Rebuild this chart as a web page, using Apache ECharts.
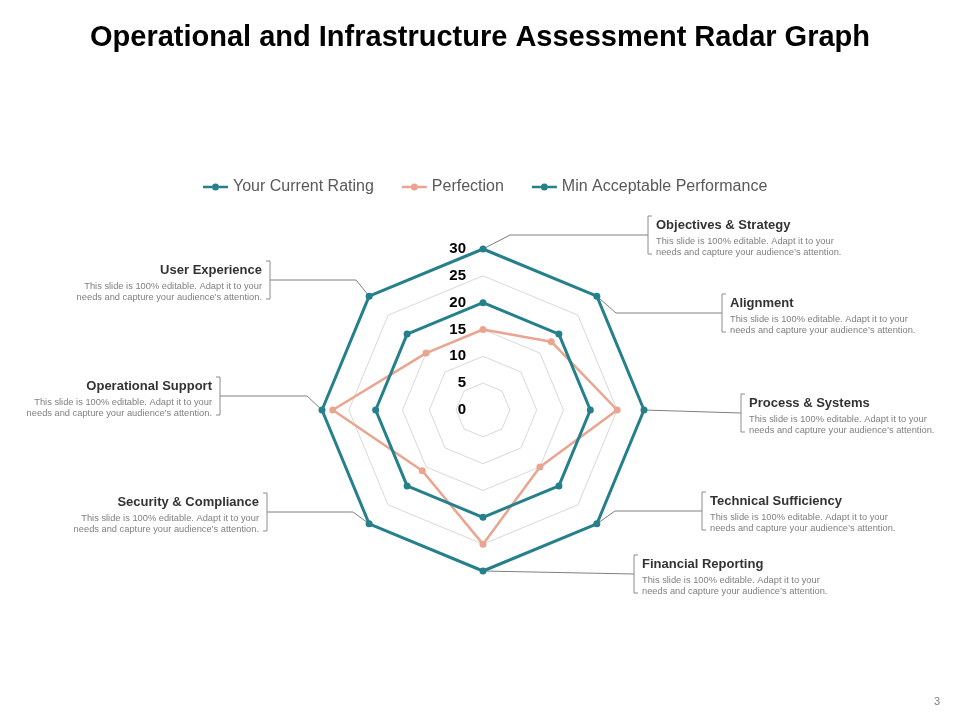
<!DOCTYPE html>
<html><head><meta charset="utf-8">
<script src="https://cdn.jsdelivr.net/npm/echarts@6/dist/echarts.min.js"></script>
<style>html,body{margin:0;padding:0;background:#fff}#c{width:960px;height:720px}</style>
</head><body><div id="c"></div>
<script>
// Categories in the order ECharts draws them (top, then counter-clockwise)
const categories = ['Objectives & Strategy','User Experience','Operational Support','Security & Compliance','Financial Reporting','Technical Sufficiency','Process & Systems','Alignment'];
const seriesNames = ['Your Current Rating','Perfection','Min Acceptable Performance'];
const currentRating = [30,30,30,30,30,30,30,30];
const perfection = [15,15,28,16,25,15,25,18];
const minAcceptable = [20,20,20,20,20,20,20,20];
const axisMin = 0, axisMax = 30, axisStep = 5;
const descLines = ['This slide is 100% editable. Adapt it to your','needs and capture your audience’s attention.'];
const titleText = 'Operational and Infrastructure Assessment Radar Graph';
const pageNumber = '3';

const TEAL = '#25808b', SALMON = '#eaa590';
const FONT = '"Liberation Sans", Arial, sans-serif';
const CX = 483, CY = 410, R = 161;

// callout layout (same order as categories)
const callouts = [
  {side:'right', bx:648, top:216, elbowX:510},
  {side:'left',  bx:270, top:261, elbowX:356},
  {side:'left',  bx:220, top:377, elbowX:307},
  {side:'left',  bx:267, top:493, elbowX:353},
  {side:'right', bx:634, top:555, elbowX:null},
  {side:'right', bx:702, top:492, elbowX:615},
  {side:'right', bx:741, top:394, elbowX:null},
  {side:'right', bx:722, top:294, elbowX:616}
];

const graphics = [];
categories.forEach((name, i) => {
  const c = callouts[i];
  const ang = Math.PI/2 + i*2*Math.PI/categories.length;
  const f = (currentRating[i]-axisMin)/(axisMax-axisMin);
  const vx = CX + R*f*Math.cos(ang), vy = CY - R*f*Math.sin(ang);
  const ly = c.top + 19;
  const pts = c.elbowX == null ? [[vx,vy],[c.bx,ly]] : [[vx,vy],[c.elbowX,ly],[c.bx,ly]];
  graphics.push({type:'polyline', z:1, shape:{points:pts}, style:{stroke:'#808080', lineWidth:1, fill:null}});
  const d = c.side === 'right' ? 4 : -4;
  graphics.push({type:'polyline', z:1, shape:{points:[[c.bx+d,c.top],[c.bx,c.top],[c.bx,c.top+38],[c.bx+d,c.top+38]]}, style:{stroke:'#8c8c8c', lineWidth:1, fill:null}});
  const tx = c.side === 'right' ? c.bx + 8 : c.bx - 8;
  const al = c.side === 'right' ? 'left' : 'right';
  graphics.push({type:'text', z:1, x:tx, y:c.top+9, style:{text:name, fill:'#333333', font:'bold 13px ' + FONT, align:al, textAlign:al, verticalAlign:'middle', textVerticalAlign:'middle'}});
  descLines.forEach((t, k) => {
    graphics.push({type:'text', z:1, x:tx, y:c.top+25+k*11, style:{text:t, fill:'#808080', font:'9.3px ' + FONT, align:al, textAlign:al, verticalAlign:'middle', textVerticalAlign:'middle'}});
  });
});
graphics.push({type:'text', x:937, y:702, style:{text:pageNumber, fill:'#808080', font:'11px ' + FONT, align:'center', textAlign:'center', verticalAlign:'middle', textVerticalAlign:'middle'}});
graphics.push({type:'text', x:480, y:38, style:{text:titleText, fill:'#000000', font:'bold 29px ' + FONT, align:'center', textAlign:'center', verticalAlign:'middle', textVerticalAlign:'middle'}});

const legendIcon = 'path://M0,2.2h9v2.6h-9z M16,2.2h9v2.6h-9z M9,3.5a3.5,3.5 0 1,0 7,0a3.5,3.5 0 1,0 -7,0z';
const colors = [TEAL, SALMON, TEAL];
const values = [currentRating, perfection, minAcceptable];
const widths = [3, 2.5, 3];

const chart = echarts.init(document.getElementById('c'), null, {renderer:'canvas'});
chart.setOption({
  animation: false,
  backgroundColor: '#ffffff',
  legend: {
    left: 198, top: 174, itemGap: 28, itemWidth: 25, itemHeight: 7,
    data: seriesNames.map(n => ({name: n, icon: legendIcon})),
    itemStyle: {borderWidth: 0},
    textStyle: {fontSize: 16, color: '#595959', fontFamily: FONT},
    selectedMode: false
  },
  radar: {
    center: [CX, CY], radius: R, shape: 'polygon', splitNumber: (axisMax-axisMin)/axisStep,
    indicator: categories.map((n, i) => i === 0 ? {name: n, min: axisMin, max: axisMax} : {name: n, min: axisMin, max: axisMax, axisLabel: {show: false}}),
    axisName: {show: false},
    axisLine: {show: false},
    axisTick: {show: false},
    splitArea: {show: false},
    splitLine: {lineStyle: {color: '#d9d9d9', width: 1}},
    axisLabel: {show: true, fontSize: 15, fontWeight: 'bold', color: '#000', fontFamily: FONT, margin: 17}
  },
  series: [{
    type: 'radar', symbol: 'circle', symbolSize: 7,
    emphasis: {disabled: true},
    data: seriesNames.map((n, k) => ({
      name: n, value: values[k],
      lineStyle: {color: colors[k], width: widths[k]},
      itemStyle: {color: colors[k]}
    }))
  }],
  graphic: graphics
});
</script></body></html>
